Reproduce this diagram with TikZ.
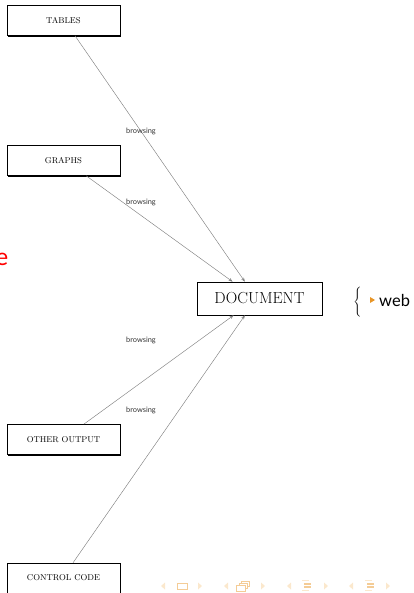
\documentclass[tikz,border=0pt]{standalone}
\usepackage{fontspec}
\newfontfamily\lato{Lato}
\usetikzlibrary{arrows.meta,shadows}
\definecolor{navpale}{RGB}{251,232,205}
\definecolor{navicon}{RGB}{244,204,150}
\definecolor{bullet}{RGB}{232,150,40}
\begin{document}
\begin{tikzpicture}[x=1pt,y=-1pt,
  box/.style={draw=black, line width=0.7pt, fill=white, inner sep=0pt,
    minimum width=113pt, minimum height=30pt,
    font=\fontsize{8.5}{10}\selectfont,
    drop shadow={shadow xshift=1.2pt, shadow yshift=-1.2pt, fill=black, opacity=1}},
  link/.style={draw=black!50, line width=0.45pt, -{Stealth[length=4pt,width=3pt]}},
  tag/.style={font=\lato\fontsize{7.4}{8}\selectfont, text=black!80, inner sep=0pt}]
\useasboundingbox (0,0) rectangle (413,593);

% source boxes and the target
\node[box] (tables)  at (63.5,20.5)  {TABLES};
\node[box] (graphs)  at (63.5,160.5) {GRAPHS};
\node[box] (other)   at (63.5,439.5) {OTHER OUTPUT};
\node[box] (control) at (63.5,578)   {CONTROL CODE};
\node[box, minimum width=125pt, minimum height=33pt,
      font=\fontsize{16}{19}\selectfont] (doc) at (259.5,298.5) {DOCUMENT};

% connectors
\draw[link] (tables.-53) -- (doc.131);
\draw[link] (graphs.-34) -- (doc.148);
\draw[link] (other.37)   -- (doc.-147);
\draw[link] (control.58) -- (doc.-131);

% edge labels
\node[tag] (b1) at (141,131) {browsing};
\node[tag] (b2) at (141,202) {browsing};
\node[tag] (b3) at (141,340) {browsing};
\node[tag] (b4) at (141,410) {browsing};

% brace with bullet item
\node[inner sep=0pt, font=\fontsize{13}{15}\selectfont] (brace) at (357.5,302) {$\Bigg\{$};
\fill[bullet] (370,297) -- (375,300) -- (370,303) -- cycle;
\node[anchor=base west, inner sep=0pt, font=\lato\fontsize{16.5}{19}\selectfont] (web) at (379,306.5) {web};

% red letter at the left edge
\node[anchor=base east, inner sep=0pt, text=red, font=\lato\fontsize{24}{28}\selectfont] (redletter) at (8.5,265) {e};

% navigation symbols
\foreach \l/\r in {163/200, 226/263, 289/326, 351/388}{
  \fill[navpale] (\l-2,586) -- (\l+2,582.5) -- (\l+2,589.5) -- cycle;
  \fill[navpale] (\r+2,586) -- (\r-2,582.5) -- (\r-2,589.5) -- cycle;
}
\draw[navicon, line width=0.7pt] (177.5,583) rectangle (187.5,589.5);
\draw[navicon, line width=0.6pt, fill=white] (241,581) rectangle (249,586.5);
\draw[navicon, line width=0.6pt, fill=white] (239,583) rectangle (247,588.5);
\draw[navicon, line width=0.7pt, fill=white] (236.5,585) rectangle (245.5,591);
\foreach \c in {307,370}{
  \draw[navpale, line width=1.2pt] (\c-5,580.5) -- (\c+2,580.5);
  \draw[navicon, line width=1.2pt] (\c-3,584) -- (\c+4,584);
  \draw[navicon, line width=1.2pt] (\c-3,587) -- (\c+4,587);
  \draw[navpale, line width=1.2pt] (\c-5,590.5) -- (\c+2,590.5);
}
\end{tikzpicture}
\end{document}
